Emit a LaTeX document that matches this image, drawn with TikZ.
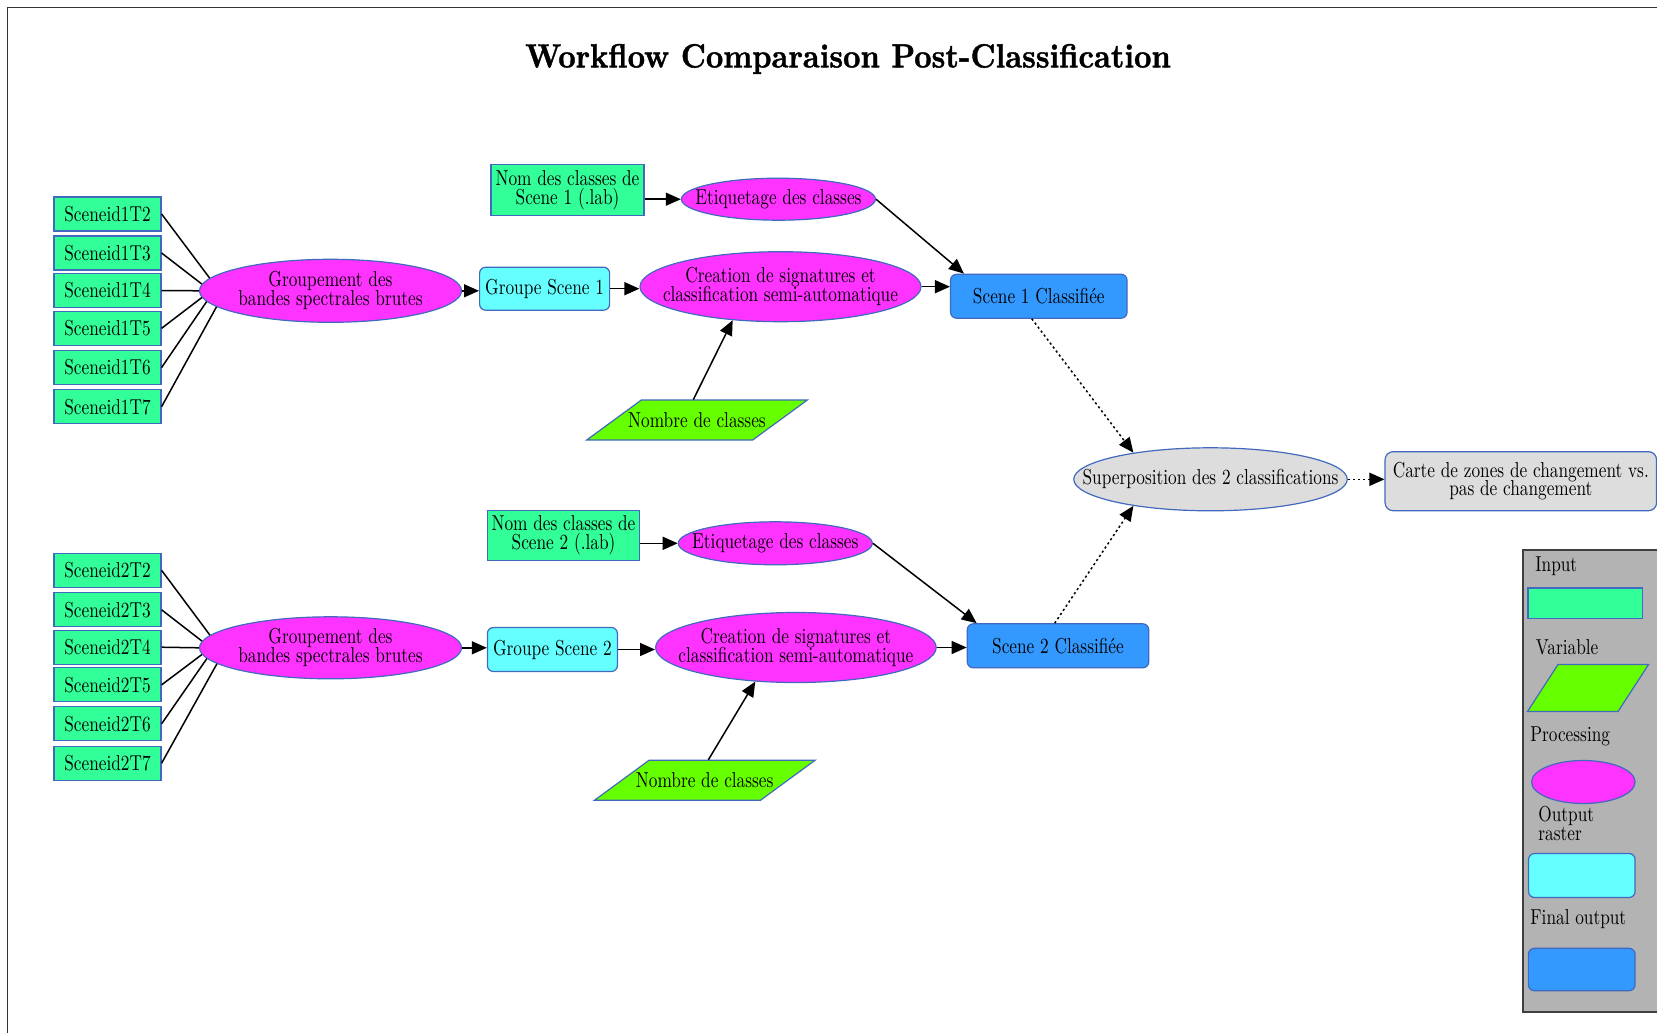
\documentclass[tikz,border=0pt]{standalone}
\usepackage{fontspec}
\setmainfont{lmroman10}[Extension=.otf, UprightFont=*-regular, BoldFont=*-bold, ItalicFont=*-italic, BoldItalicFont=*-bolditalic, FakeStretch=0.8]
\newfontfamily\wftitlefont{lmroman10-bold.otf}[FakeStretch=0.9, FakeBold=1.2]
\usetikzlibrary{shapes.geometric, arrows.meta, calc}

\definecolor{inputc}{RGB}{51,255,153}
\definecolor{varc}{RGB}{102,255,0}
\definecolor{procc}{RGB}{255,51,255}
\definecolor{rasterc}{RGB}{102,255,255}
\definecolor{finalc}{RGB}{51,153,255}
\definecolor{grayc}{RGB}{221,221,221}
\definecolor{legendbg}{RGB}{179,179,179}
\definecolor{bordc}{RGB}{65,105,190}

\def\wfnodefont{\fontsize{10.8}{9.4}\selectfont\lineskiplimit=-6pt}

\tikzset{
  base/.style={draw=bordc, line width=0.6pt, inner sep=1pt, font=\wfnodefont, align=center},
  wftext/.style={font=\wfnodefont, align=center, inner sep=0pt},
  inbox/.style={base, rectangle, fill=inputc, minimum width=53.5pt, minimum height=17pt},
  proc/.style={base, ellipse, fill=procc, inner sep=0pt},
  grayproc/.style={base, ellipse, fill=grayc, inner sep=0pt},
  raster/.style={base, rectangle, rounded corners=3pt, fill=rasterc},
  final/.style={base, rectangle, rounded corners=3pt, fill=finalc},
  grayfinal/.style={base, rectangle, rounded corners=4pt, fill=grayc},
  varshape/.style={draw=bordc, line width=0.6pt, fill=varc},
  vartext/.style={wftext, rectangle},
  legtext/.style={wftext, anchor=west, align=left},
  link/.style={line width=0.75pt, black},
  flow/.style={link, -{Triangle[length=7.5pt, width=6.5pt]}},
  dotflow/.style={flow, dash pattern=on 1.1pt off 1.4pt},
  frame/.style={line width=0.8pt, black!80},
  wftitle/.style={font=\fontsize{16.8}{20}\selectfont\wftitlefont, inner sep=0pt}
}

\begin{document}
\begin{tikzpicture}[x=0.5pt, y=-0.5pt]
\useasboundingbox (0,0) rectangle (1657,1032);
\clip (0,0) rectangle (1657,1032);
\fill[white] (0,0) rectangle (1657,1032);
\draw[frame] (7.4,7.4) rectangle (1720,1100);

\node[wftitle] (title) at (848,59) {Workflow Comparaison Post-Classification};

% ---------- Scene 1 ----------
\foreach \k/\y in {2/214,3/253,4/290.5,5/328.3,6/367.5,7/406.7}
  \node[inbox] (s1t\k) at (107.5,\y) {Sceneid1T\k};

\node[proc, minimum width=131pt, minimum height=31.5pt,
      label={[wftext]center:{Groupement des\\bandes spectrales brutes}}] (grp1) at (330.5,290.8) {};
\foreach \k/\a in {2/174,3/177,4/180,5/183,6/185,7/188}
  \draw[link] (s1t\k.east) -- (grp1.\a);

\node[raster, minimum width=65pt, minimum height=21.5pt] (gs1) at (544.6,288.7) {Groupe Scene 1};
\node[proc, minimum width=140.5pt, minimum height=35pt,
      label={[wftext]center:{Creation de signatures et\\classification semi-automatique}}] (cre1) at (780.5,286.7) {};
\node[final, minimum width=88.25pt, minimum height=22pt] (sc1) at (1038.8,296.2) {Scene 1 Classifiée};
\node[inbox, minimum width=76.5pt, minimum height=25.5pt] (nom1) at (567.5,190.3) {Nom des classes de\\Scene 1 (.lab)};
\node[proc, minimum width=97pt, minimum height=21pt,
      label={[wftext]center:{Etiquetage des classes}}] (eti1) at (778.4,199.2) {};

\coordinate (nb1c) at (697,420);
\draw[varshape] ($(nb1c)+(-110.3,20)$) -- ($(nb1c)+(55.7,20)$) -- ($(nb1c)+(110.3,-20)$) -- ($(nb1c)+(-55.7,-20)$) -- cycle;
\node[vartext, minimum width=110.3pt, minimum height=20pt] (nb1) at (nb1c) {Nombre de classes};

\draw[flow] (grp1.east) -- (grp1.east -| gs1.west);
\draw[flow] (gs1.east) -- (gs1.east -| cre1.west);
\draw[flow] (cre1.east) -- (cre1.east -| sc1.west);
\draw[flow] (nom1.east |- eti1) -- (eti1.west);
\draw[flow] (eti1.east) -- ([xshift=7pt]sc1.north west);
\draw[flow] ([xshift=-1.85pt]nb1.north) -- (cre1.215);

% ---------- Scene 2 ----------
\foreach \k/\y in {2/570.3,3/609.8,4/647.2,5/684.8,6/723.8,7/763.2}
  \node[inbox] (s2t\k) at (107.5,\y) {Sceneid2T\k};

\node[proc, minimum width=131pt, minimum height=31pt,
      label={[wftext]center:{Groupement des\\bandes spectrales brutes}}] (grp2) at (330.5,647.8) {};
\foreach \k/\a in {2/174,3/177,4/180,5/183,6/185,7/188}
  \draw[link] (s2t\k.east) -- (grp2.\a);

\node[raster, minimum width=65pt, minimum height=22pt] (gs2) at (552.4,649.5) {Groupe Scene 2};
\node[proc, minimum width=140.3pt, minimum height=35pt,
      label={[wftext]center:{Creation de signatures et\\classification semi-automatique}}] (cre2) at (795.9,647.5) {};
\node[final, minimum width=90.75pt, minimum height=22pt] (sc2) at (1058,645.8) {Scene 2 Classifiée};
\node[inbox, minimum width=76.25pt, minimum height=25pt] (nom2) at (563.5,535.2) {Nom des classes de\\Scene 2 (.lab)};
\node[proc, minimum width=97pt, minimum height=21.5pt,
      label={[wftext]center:{Etiquetage des classes}}] (eti2) at (775.3,543.3) {};

\coordinate (nb2c) at (704.7,780.3);
\draw[varshape] ($(nb2c)+(-110.3,20)$) -- ($(nb2c)+(55.7,20)$) -- ($(nb2c)+(110.3,-20)$) -- ($(nb2c)+(-55.7,-20)$) -- cycle;
\node[vartext, minimum width=110.3pt, minimum height=20pt] (nb2) at (nb2c) {Nombre de classes};

\draw[flow] (grp2.east) -- (grp2.east -| gs2.west);
\draw[flow] (gs2.east) -- (gs2.east -| cre2.west);
\draw[flow] (cre2.east) -- (cre2.east -| sc2.west);
\draw[flow] (nom2.east |- eti2) -- (eti2.west);
\draw[flow] (eti2.east) -- ([xshift=5pt]sc2.north west);
\draw[flow] ([xshift=1.8pt]nb2.north) -- (cre2.220);

% ---------- Comparison ----------
\node[grayproc, minimum width=136.75pt, minimum height=31.5pt,
      label={[wftext]center:{Superposition des 2 classifications}}] (sup) at (1210.5,479.3) {};
\node[grayfinal, minimum width=135.75pt, minimum height=29.5pt] (carte) at (1520.8,481.2) {Carte de zones de changement vs.\\pas de changement};

\draw[dotflow] ([xshift=-3.5pt]sc1.south) -- (sup.161);
\draw[dotflow] ([xshift=-1.65pt]sc2.north) -- (sup.199);
\draw[dotflow] (sup.east) -- (sup.east -| carte.west);

% ---------- Legend ----------
\draw[fill=legendbg, draw=black!75, line width=1pt] (1522.7,549.5) rectangle (1720,1012);
\node[legtext] (lgin) at (1535,566) {Input};
\node[inbox, minimum width=57.35pt, minimum height=15.15pt] (lginbox) at (1585.3,603.2) {};
\node[legtext] (lgvar) at (1535.5,647.5) {Variable};
\coordinate (lgvarc) at (1588,688);
\draw[varshape] ($(lgvarc)+(-60.5,23.5)$) -- ($(lgvarc)+(30,23.5)$) -- ($(lgvarc)+(60.5,-23.5)$) -- ($(lgvarc)+(-30,-23.5)$) -- cycle;
\node[legtext] (lgproc) at (1530,736) {Processing};
\node[proc, minimum width=51.75pt, minimum height=21.5pt] (lgprocshape) at (1583.3,782) {};
\node[legtext] (lgraster) at (1538,823.5) {Output\\raster};
\node[raster, minimum width=53.25pt, minimum height=22pt] (lgrastershape) at (1581.8,875.5) {};
\node[legtext] (lgfinal) at (1530,919) {Final output};
\node[final, minimum width=53.35pt, minimum height=21.2pt] (lgfinalshape) at (1581.7,969.5) {};
\end{tikzpicture}
\end{document}
